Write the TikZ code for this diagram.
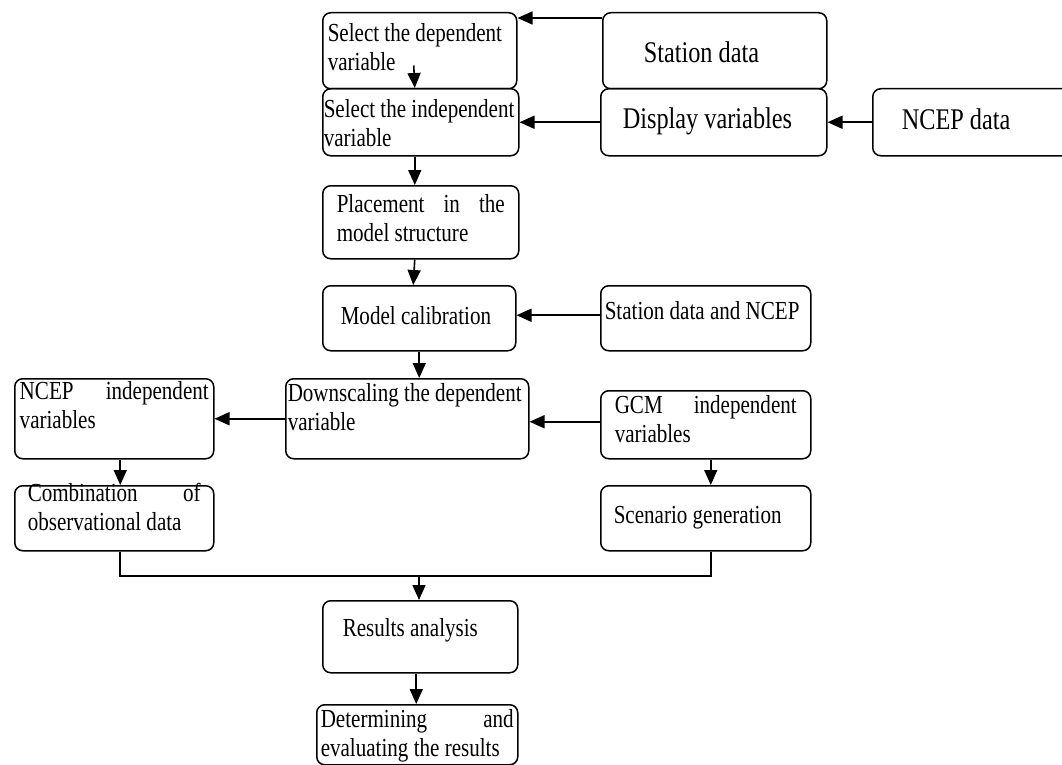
\documentclass[tikz,border=0pt]{standalone}
\usepackage{fontspec}
\setmainfont{Liberation Serif}[FakeStretch=0.81]
\usepackage{tikz}
\usetikzlibrary{arrows.meta}
\newcommand{\boxfont}{\fontsize{26}{29}\selectfont}
\newcommand{\bigboxfont}{\fontsize{30}{32}\selectfont}

\begin{document}
\begin{tikzpicture}[x=1pt,y=-1pt,
	box/.style={draw,line width=1.5pt,rounded corners=8pt,anchor=north west,inner ysep=0pt,align=justify,font=\boxfont},
	arr/.style={line width=1.6pt,-{Triangle[length=15pt,width=13pt]}}]
	%	\draw[help lines,step=50] (0,0) grid (1062,765);
	\useasboundingbox (0,0) rectangle (1062,765);

		% upper column
		\node[box,text width=184pt,inner xsep=5pt,text height=29pt,text depth=47pt] (dep) at (322,12) {Select the dependent\\ variable};
		\node[box,text width=194pt,inner xsep=1pt,text height=29pt,text depth=38pt] (indep) at (322,88) {Select the independent\\ variable};
		\node[box,text width=168pt,inner xsep=14pt,text height=27pt,text depth=46pt] (place) at (322,185) {Placement in the\linebreak model structure};
		\node[box,text width=157pt,inner xsep=18pt,text height=39pt,text depth=26pt] (calib) at (322,285) {Model calibration};

		% inputs on the right
		\node[box,font=\bigboxfont,text width=142pt,inner xsep=41pt,text height=50pt,text depth=26pt] (station) at (602,12) {Station data};
		\node[box,font=\bigboxfont,text width=182pt,inner xsep=22pt,text height=40pt,text depth=27pt] (display) at (600,88) {Display variables};
		\node[box,font=\bigboxfont,text width=152pt,inner xsep=29pt,text height=41pt,text depth=26pt] (ncepd) at (872,88) {NCEP data};
		\node[box,text width=202pt,inner xsep=4pt,text height=34pt,text depth=31pt] (stnncep) at (600,285) {Station data and NCEP};

		% downscaling row
		\node[box,text width=189pt,inner xsep=5pt,text height=21pt,text depth=59pt] (ncepind) at (14,378) {NCEP independent\linebreak variables};
		\node[box,text width=239pt,inner xsep=2pt,text height=23pt,text depth=57pt] (down) at (285,378) {Downscaling the dependent\\ variable};
		\node[box,text width=182pt,inner xsep=14pt,text height=23pt,text depth=45pt] (gcm) at (600,390) {GCM independent\linebreak variables};
		\node[box,text width=173pt,inner xsep=13pt,text height=16pt,text depth=49pt] (combo) at (14,485) {Combination of\linebreak observational data};
		\node[box,text width=184pt,inner xsep=13pt,text height=38pt,text depth=27pt] (scen) at (600,485) {Scenario generation};

		% results
		\node[box,text width=155pt,inner xsep=20pt,text height=36pt,text depth=36pt] (results) at (322,600) {Results analysis};
		\node[box,text width=193pt,inner xsep=4pt,text height=23pt,text depth=37pt] (determ) at (316,704) {Determining and\linebreak evaluating the results};

		\coordinate (join) at (419,576);

		\draw[arr] ([yshift=-6pt]station.north west) -- ([yshift=-6pt]station.north west -| dep.east);
		\draw[arr] ([xshift=-6pt,yshift=24pt]dep.south) -- ([xshift=-6pt]indep.north);
		\draw[arr] (display.west) -- (display.west -| indep.east);
		\draw[arr] (ncepd.west) -- (ncepd.west -| display.east);
		\draw[arr] ([xshift=-6pt]indep.south) -- ([xshift=-6pt]place.north);
		\draw[arr] ([xshift=-6pt]place.south) -- ([xshift=-6pt]calib.north);
		\draw[arr] ([yshift=3pt]stnncep.west) -- ([yshift=3pt]stnncep.west -| calib.east);
		\draw[arr] (calib.south) -- (calib.south |- down.north);
		\draw[arr] (down.west) -- (down.west -| ncepind.east);
		\draw[arr] ([yshift=3pt]gcm.west) -- ([yshift=3pt]gcm.west -| down.east);
		\draw[arr] ([xshift=6pt]ncepind.south) -- ([xshift=6pt]combo.north);
		\draw[arr] ([xshift=5pt]gcm.south) -- ([xshift=5pt]scen.north);

		\draw[line width=1.6pt] ([xshift=6pt]combo.south) |- (join) -| ([xshift=5pt]scen.south);
		\draw[arr] (join) -- (join |- results.north);
		\draw[arr] ([xshift=-4pt]results.south) -- ([xshift=-4pt]results.south |- determ.north);

\end{tikzpicture}
\end{document}
